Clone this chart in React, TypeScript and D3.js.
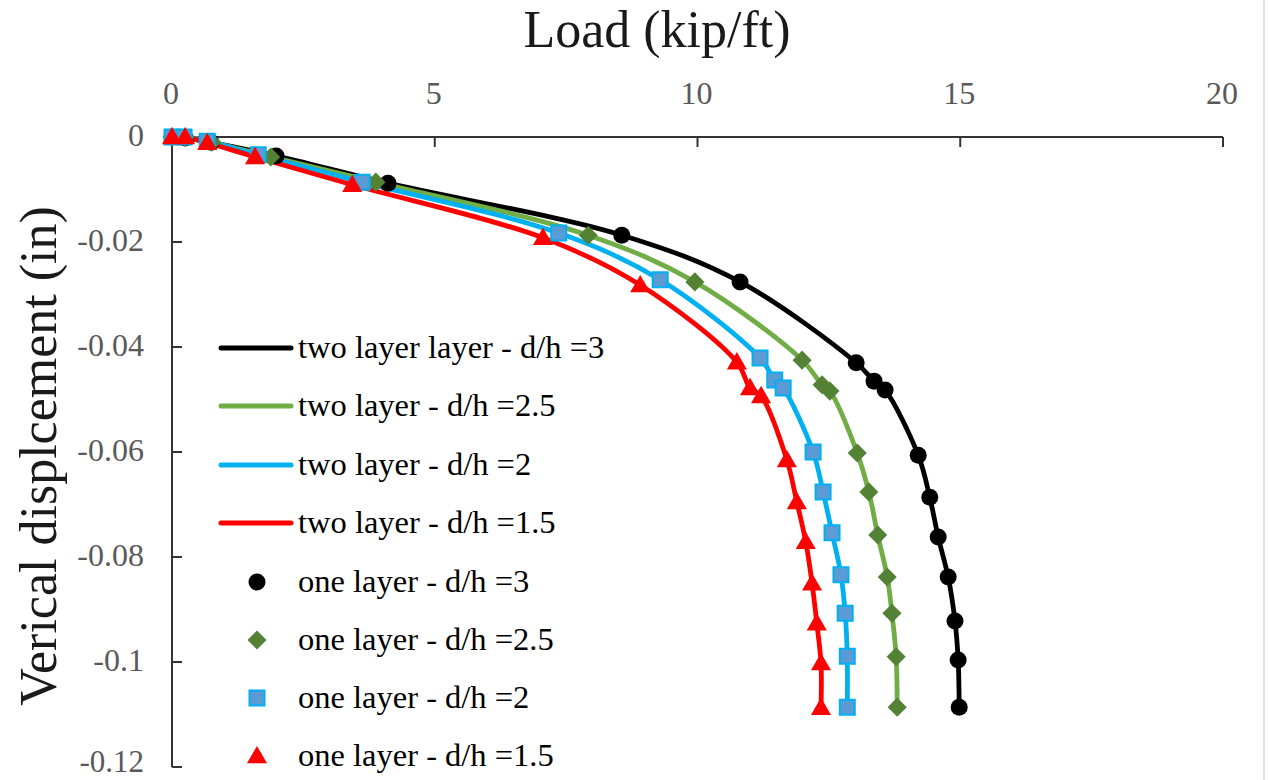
import React from 'react';
import * as d3 from 'd3';

// ---- Data ----
const xTickValues = [0, 5, 10, 15, 20];
const yTickValues = [0, -0.02, -0.04, -0.06, -0.08, -0.1, -0.12];

const load_dh3 = [0, 0.25, 0.74, 1.98, 4.11, 8.56, 10.81, 13.02, 13.36, 13.57, 14.2, 14.42, 14.58, 14.77, 14.9, 14.96, 14.98];
const disp_dh3 = [0, -0.0002, -0.001, -0.0036, -0.0088, -0.0187, -0.0276, -0.043, -0.0465, -0.0482, -0.0606, -0.0686, -0.0762, -0.0838, -0.0922, -0.0996, -0.1086];

const load_dh25 = [0, 0.25, 0.76, 1.88, 3.88, 7.92, 9.95, 11.99, 12.37, 12.52, 13.04, 13.26, 13.43, 13.61, 13.7, 13.78, 13.8];
const disp_dh25 = [0, 0, -0.001, -0.0038, -0.0086, -0.0187, -0.0276, -0.0425, -0.0472, -0.0484, -0.0602, -0.0676, -0.0758, -0.0838, -0.0907, -0.099, -0.1086];

const load_dh2 = [0, 0.23, 0.67, 1.64, 3.62, 7.36, 9.29, 11.19, 11.47, 11.63, 12.2, 12.39, 12.56, 12.73, 12.81, 12.85, 12.85];
const disp_dh2 = [0, 0, -0.0008, -0.0034, -0.0086, -0.0183, -0.0272, -0.0421, -0.0463, -0.0478, -0.06, -0.0676, -0.0754, -0.0834, -0.0907, -0.0989, -0.1086];

const load_dh15 = [0, 0.25, 0.67, 1.58, 3.43, 7.06, 8.91, 10.75, 11.0, 11.21, 11.7, 11.89, 12.06, 12.18, 12.27, 12.35, 12.35];
const disp_dh15 = [0, 0, -0.0011, -0.0038, -0.0091, -0.0192, -0.0282, -0.0429, -0.0478, -0.0493, -0.0615, -0.0695, -0.0771, -0.085, -0.0926, -0.1002, -0.1087];

const twoLayerNames = ['two layer layer - d/h =3', 'two layer - d/h =2.5', 'two layer - d/h =2', 'two layer - d/h =1.5'];
const oneLayerNames = ['one layer - d/h =3', 'one layer - d/h =2.5', 'one layer - d/h =2', 'one layer - d/h =1.5'];

const xTitle = 'Load (kip/ft)';
const yTitle = 'Verical displcement (in)';

// ---- Styles ----
type Sym = 'circle' | 'diamond' | 'square' | 'triangle';
const seriesStyles: { line: string; fill: string; stroke: string; sym: Sym }[] = [
  { line: '#000000', fill: '#000000', stroke: 'none', sym: 'circle' },
  { line: '#70AD47', fill: '#548235', stroke: 'none', sym: 'diamond' },
  { line: '#00B0F0', fill: '#5B9BD5', stroke: '#00B0F0', sym: 'square' },
  { line: '#FF0000', fill: '#FF0000', stroke: 'none', sym: 'triangle' },
];
const seriesData = [
  { load: load_dh3, disp: disp_dh3 },
  { load: load_dh25, disp: disp_dh25 },
  { load: load_dh2, disp: disp_dh2 },
  { load: load_dh15, disp: disp_dh15 },
];

const FONT = '"Liberation Serif", "Times New Roman", serif';

function symbolPath(sym: Sym): string {
  switch (sym) {
    case 'circle':
      return d3.symbol(d3.symbolCircle, Math.PI * 8.5 * 8.5)()!;
    case 'diamond':
      return d3.symbol(d3.symbolSquare, 13.5 * 13.5)()!;
    case 'square':
      return d3.symbol(d3.symbolSquare, 15 * 15)()!;
    case 'triangle':
      return d3.symbol(d3.symbolTriangle, 175)()!;
  }
}

function Marker({ sym, fill, stroke, cx, cy }: { sym: Sym; fill: string; stroke: string; cx: number; cy: number }) {
  const rot = sym === 'diamond' ? ' rotate(45)' : '';
  const dy = sym === 'triangle' ? 1.5 : 0;
  return (
    <path
      d={symbolPath(sym)}
      transform={`translate(${cx},${cy + dy})${rot}`}
      fill={fill}
      stroke={stroke}
      strokeWidth={stroke === 'none' ? 0 : 2}
    />
  );
}

export default function App() {
  const W = 1269;
  const H = 780;
  const x = d3.scaleLinear().domain([0, 20]).range([172, 1223]);
  const y = d3.scaleLinear().domain([0, -0.12]).range([137, 767]);

  const line = d3
    .line<[number, number]>()
    .x((d) => x(d[0]))
    .y((d) => y(d[1]))
    .curve(d3.curveCatmullRom.alpha(0.5));

  const pts = seriesData.map((s) => s.load.map((l, i) => [l, s.disp[i]] as [number, number]));

  const legendY = [348, 406, 465, 523, 582, 640, 698, 756];

  return (
    <svg
      width={W}
      height={H}
      style={{ position: 'absolute', left: 0, top: 0, display: 'block', background: '#fff' }}
      fontFamily={FONT}
    >
      <rect x={0} y={0} width={W} height={H} fill="#fff" />
      <line x1={1264} x2={1264} y1={0} y2={H} stroke="#d9d9d9" strokeWidth={1.5} />

      {/* Axis titles */}
      <text x={657} y={47} textAnchor="middle" fontSize={52} fill="#1a1a1a">
        {xTitle}
      </text>
      <text transform="translate(56,456) rotate(-90)" textAnchor="middle" fontSize={52} fill="#1a1a1a">
        {yTitle}
      </text>

      {/* Top x axis */}
      <line x1={x(0)} x2={x(20)} y1={y(0)} y2={y(0)} stroke="#333" strokeWidth={2} />
      {xTickValues.map((t) => (
        <g key={'xt' + t}>
          {t !== 0 && <line x1={x(t)} x2={x(t)} y1={y(0)} y2={y(0) + 10} stroke="#333" strokeWidth={2} />}
          <text x={x(t) - 1} y={104} textAnchor="middle" fontSize={32} fill="#595959">
            {String(t)}
          </text>
        </g>
      ))}

      {/* Left y axis */}
      <line x1={x(0)} x2={x(0)} y1={y(0)} y2={y(-0.12)} stroke="#333" strokeWidth={2} />
      {yTickValues.map((t) => (
        <g key={'yt' + t}>
          {t !== 0 && <line x1={x(0)} x2={x(0) + 10} y1={y(t)} y2={y(t)} stroke="#333" strokeWidth={2} />}
          <text x={144} y={Math.min(y(t) + 9, 772)} textAnchor="end" fontSize={t === -0.12 ? 31 : 32} fill="#595959">
            {String(+t.toFixed(2))}
          </text>
        </g>
      ))}

      {/* two layer lines */}
      {pts.map((p, i) => (
        <path key={'l' + i} d={line(p)!} fill="none" stroke={seriesStyles[i].line} strokeWidth={4.8} strokeLinejoin="round" strokeLinecap="round" />
      ))}

      {/* one layer markers */}
      {pts.map((p, i) => (
        <g key={'m' + i}>
          {p.map((d, j) => (
            <Marker key={j} sym={seriesStyles[i].sym} fill={seriesStyles[i].fill} stroke={seriesStyles[i].stroke} cx={x(d[0])} cy={y(d[1])} />
          ))}
        </g>
      ))}

      {/* Legend */}
      {twoLayerNames.map((n, i) => (
        <g key={'lg2' + i}>
          <line x1={221} x2={291} y1={legendY[i]} y2={legendY[i]} stroke={seriesStyles[i].line} strokeWidth={5} strokeLinecap="round" />
          <text x={298} y={legendY[i] + 10} fontSize={32.5} fill="#000">
            {n}
          </text>
        </g>
      ))}
      {oneLayerNames.map((n, i) => (
        <g key={'lg1' + i}>
          <Marker sym={seriesStyles[i].sym} fill={seriesStyles[i].fill} stroke={seriesStyles[i].stroke} cx={257} cy={legendY[i + 4]} />
          <text x={298} y={legendY[i + 4] + 10} fontSize={32.5} fill="#000">
            {n}
          </text>
        </g>
      ))}
    </svg>
  );
}
